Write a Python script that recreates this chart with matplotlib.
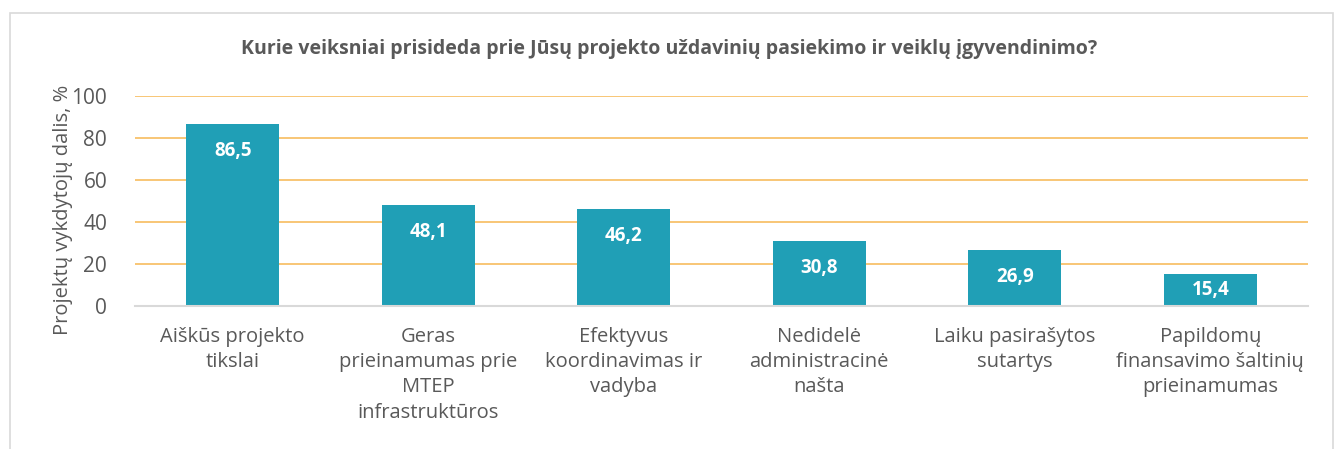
import matplotlib.pyplot as plt
from matplotlib.patches import Rectangle

plt.rcParams['font.family'] = ['Open Sans', 'DejaVu Sans']

categories = ['Aiškūs projekto\ntikslai',
              'Geras\nprieinamumas prie\nMTEP\ninfrastruktūros',
              'Efektyvus\nkoordinavimas ir\nvadyba',
              'Nedidelė\nadministracinė\nnašta',
              'Laiku pasirašytos\nsutartys',
              'Papildomų\nfinansavimo šaltinių\nprieinamumas']
values = [86.5, 48.1, 46.2, 30.8, 26.9, 15.4]
yticks = [0, 20, 40, 60, 80, 100]

bar_color = '#209FB6'
grid_color = '#F8C16B'
text_color = '#595959'

W, H = 1338, 449
fig = plt.figure(figsize=(W / 100, H / 100), dpi=100)
fig.patches.append(Rectangle((10 / W, -0.1), 1323 / W, 1.1 - 13 / H,
                             transform=fig.transFigure, fill=False,
                             edgecolor='#D9D9D9', linewidth=1.2))

ax = fig.add_axes([135 / W, 1 - 306 / H, 1173 / W, 210 / H])
x = list(range(len(values)))
ax.bar(x, values, width=0.476, color=bar_color, zorder=3)
ax.set_xlim(-0.5, len(values) - 0.5)
ax.set_ylim(0, 100)
ax.set_yticks(yticks)
ax.set_yticklabels([str(t) for t in yticks], fontsize=15, color=text_color)
ax.set_xticks(x)
ax.set_xticklabels(categories, fontsize=14.5, color=text_color, linespacing=1.35)
ax.tick_params(axis='both', length=0)
ax.tick_params(axis='x', pad=15)
ax.tick_params(axis='y', pad=20)
ax.yaxis.grid(True, color=grid_color, linewidth=1.3, zorder=0)
for s in ['top', 'right', 'left']:
    ax.spines[s].set_visible(False)
ax.spines['bottom'].set_color('#D9D9D9')
ax.spines['bottom'].set_linewidth(1.5)
ax.spines['bottom'].set_zorder(4)

ax.set_ylabel('Projektų vykdytojų dalis, %', fontsize=14.5, color=text_color)
ax.yaxis.set_label_coords(-0.053, 0.46)

for xi, v in zip(x, values):
    ylab = max(v - 27 / 2.1, v / 2)
    ax.text(xi, ylab, f'{v:.1f}'.replace('.', ','), ha='center', va='center',
            color='white', fontsize=13.5, fontweight='bold', zorder=5)

fig.text(0.5, 1 - 49 / H,
         'Kurie veiksniai prisideda prie Jūsų projekto uždavinių pasiekimo ir veiklų įgyvendinimo?',
         ha='center', va='center', fontsize=14, fontweight='bold', color=text_color)

fig.savefig('out.png', dpi=100)
